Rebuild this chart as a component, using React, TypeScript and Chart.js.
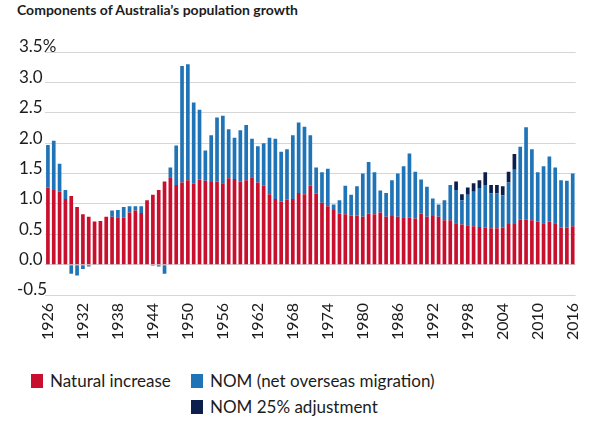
import { useEffect, useRef } from "react";
import { Chart, registerables } from "chart.js";

Chart.register(...registerables);

const years = [
  1926, 1927, 1928, 1929, 1930, 1931, 1932, 1933, 1934, 1935,
  1936, 1937, 1938, 1939, 1940, 1941, 1942, 1943, 1944, 1945,
  1946, 1947, 1948, 1949, 1950, 1951, 1952, 1953, 1954, 1955,
  1956, 1957, 1958, 1959, 1960, 1961, 1962, 1963, 1964, 1965,
  1966, 1967, 1968, 1969, 1970, 1971, 1972, 1973, 1974, 1975,
  1976, 1977, 1978, 1979, 1980, 1981, 1982, 1983, 1984, 1985,
  1986, 1987, 1988, 1989, 1990, 1991, 1992, 1993, 1994, 1995,
  1996, 1997, 1998, 1999, 2000, 2001, 2002, 2003, 2004, 2005,
  2006, 2007, 2008, 2009, 2010, 2011, 2012, 2013, 2014, 2015,
  2016,
];

const naturalIncrease = [
  1.27, 1.23, 1.2, 1.08, 1.13, 0.95, 0.83, 0.79, 0.71, 0.72,
  0.79, 0.79, 0.78, 0.77, 0.86, 0.89, 0.85, 1.06, 1.15, 1.23,
  1.37, 1.44, 1.31, 1.35, 1.39, 1.33, 1.4, 1.38, 1.36, 1.37,
  1.34, 1.42, 1.41, 1.37, 1.39, 1.44, 1.35, 1.3, 1.16, 1.08,
  1.04, 1.07, 1.08, 1.18, 1.16, 1.3, 1.17, 1.02, 0.96, 0.9,
  0.84, 0.83, 0.81, 0.81, 0.79, 0.84, 0.83, 0.86, 0.79, 0.8,
  0.79, 0.78, 0.77, 0.76, 0.84, 0.79, 0.8, 0.79, 0.73, 0.73,
  0.68, 0.66, 0.65, 0.63, 0.62, 0.61, 0.6, 0.6, 0.61, 0.67,
  0.67, 0.74, 0.74, 0.73, 0.71, 0.68, 0.71, 0.68, 0.61, 0.61,
  0.63,
];

const netOverseasMigration = [
  0.7, 0.81, 0.46, 0.15, -0.15, -0.18, -0.07, -0.03, -0.01, 0.0,
  0.0, 0.1, 0.12, 0.18, 0.1, 0.07, 0.11, 0.0, -0.02, -0.03,
  -0.15, 0.16, 0.65, 1.92, 1.91, 1.34, 1.15, 0.5, 0.77, 1.05,
  1.11, 0.81, 0.68, 0.84, 0.91, 0.63, 0.6, 0.7, 0.93, 0.99,
  0.82, 0.83, 1.05, 1.16, 1.11, 0.83, 0.43, 0.5, 0.62, 0.09,
  0.22, 0.47, 0.34, 0.48, 0.71, 0.85, 0.69, 0.36, 0.39, 0.59,
  0.71, 0.84, 1.06, 0.77, 0.56, 0.49, 0.29, 0.2, 0.33, 0.58,
  0.55, 0.4, 0.5, 0.57, 0.64, 0.7, 0.57, 0.57, 0.53, 0.68,
  0.89, 1.2, 1.52, 1.17, 0.81, 0.94, 1.07, 0.92, 0.78, 0.77,
  0.87,
];

const nomAdjustment = [
  null, null, null, null, null, null, null, null, null, null,
  null, null, null, null, null, null, null, null, null, null,
  null, null, null, null, null, null, null, null, null, null,
  null, null, null, null, null, null, null, null, null, null,
  null, null, null, null, null, null, null, null, null, null,
  null, null, null, null, null, null, null, null, null, null,
  null, null, null, null, null, null, null, null, null, null,
  0.14, 0.1, 0.12, 0.14, 0.13, 0.21, 0.14, 0.14, 0.15, 0.18,
  0.26, null, null, null, null, null, null, null, null, null,
  null,
];

const yTickValues = [-0.5, 0, 0.5, 1, 1.5, 2, 2.5, 3, 3.5];
const xTickYears = [
  1926, 1932, 1938, 1944, 1950, 1956, 1962, 1968, 1974, 1980,
  1986, 1992, 1998, 2004, 2010, 2016,
];

const seriesNames = [
  "Natural increase",
  "NOM (net overseas migration)",
  "NOM 25% adjustment",
];
const titleText = "Components of Australia\u2019s population growth";

const RED = "#c8102e";
const BLUE = "#1f74b8";
const NAVY = "#0c1f4c";
const TEXT = "#1c1c1c";
const FONT = "Lato, 'Noto Sans', sans-serif";

const yLabel = (v: number) => (v === 3.5 ? "3.5%" : v.toFixed(1));

const yLabelPlugin = {
  id: "yLabels",
  afterDraw(chart: any) {
    const s = chart.scales.y;
    const ctx = chart.ctx;
    ctx.save();
    ctx.font = `17px ${FONT}`;
    ctx.fillStyle = TEXT;
    ctx.textAlign = "left";
    ctx.textBaseline = "middle";
    yTickValues.forEach((v) => {
      ctx.fillText(yLabel(v), v < 0 ? 17 : 19, s.getPixelForValue(v) - 5);
    });
    ctx.restore();
  },
};

export default function App() {
  const canvasRef = useRef<HTMLCanvasElement | null>(null);

  useEffect(() => {
    if (!canvasRef.current) return;
    const chart = new Chart(canvasRef.current, {
      type: "bar",
      data: {
        labels: years.map(String),
        datasets: [
          { label: seriesNames[0], data: naturalIncrease, backgroundColor: RED },
          { label: seriesNames[1], data: netOverseasMigration, backgroundColor: BLUE },
          { label: seriesNames[2], data: nomAdjustment as any, backgroundColor: NAVY },
        ],
      },
      options: {
        animation: false,
        responsive: false,
        maintainAspectRatio: false,
        layout: { padding: { left: 20, right: 16, top: 52, bottom: 0 } },
        datasets: {
          bar: { barPercentage: 0.63, categoryPercentage: 1, borderWidth: 0 },
        },
        plugins: {
          legend: { display: false },
          tooltip: { enabled: false },
          title: { display: false },
        },
        scales: {
          x: {
            stacked: true,
            grid: { display: false, drawTicks: false },
            border: { display: false },
            ticks: {
              autoSkip: false,
              minRotation: 90,
              maxRotation: 90,
              padding: 8,
              color: TEXT,
              font: { family: FONT, size: 16 },
              callback: (_v: any, i: number) =>
                xTickYears.includes(years[i]) ? String(years[i]) : "",
            },
            afterFit: (s: any) => {
              s.height = 55;
            },
          },
          y: {
            stacked: true,
            min: -0.5,
            max: 3.5,
            afterBuildTicks: (s: any) => {
              s.ticks = yTickValues.map((v) => ({ value: v }));
            },
            grid: { color: "#d6d6d6", lineWidth: 1, drawTicks: false },
            border: { display: false },
            ticks: { display: false },
            afterFit: (s: any) => {
              s.width = 25;
            },
          },
        },
      },
      plugins: [yLabelPlugin],
    });
    return () => chart.destroy();
  }, []);

  const legendItem = (color: string, text: string, left: number, top: number) => (
    <div
      style={{
        position: "absolute",
        left,
        top,
        display: "flex",
        alignItems: "center",
        fontFamily: FONT,
        fontSize: 17,
        color: TEXT,
        whiteSpace: "nowrap",
      }}
    >
      <span
        style={{
          display: "inline-block",
          width: 12,
          height: 14,
          background: color,
          marginRight: 7,
        }}
      />
      <span>{text}</span>
    </div>
  );

  return (
    <div
      style={{
        position: "absolute",
        left: 0,
        top: 0,
        width: 600,
        height: 422,
        background: "#fff",
        overflow: "hidden",
      }}
    >
      <div
        style={{
          position: "absolute",
          left: 17,
          top: 1,
          fontFamily: FONT,
          fontWeight: 700,
          fontSize: 14,
          color: TEXT,
          whiteSpace: "nowrap",
        }}
      >
        {titleText}
      </div>
      <canvas
        ref={canvasRef}
        width={600}
        height={350}
        style={{ position: "absolute", left: 0, top: 0, width: 600, height: 350 }}
      />
      {legendItem(RED, seriesNames[0], 31, 370)}
      {legendItem(BLUE, seriesNames[1], 191, 370)}
      {legendItem(NAVY, seriesNames[2], 191, 396)}
    </div>
  );
}
